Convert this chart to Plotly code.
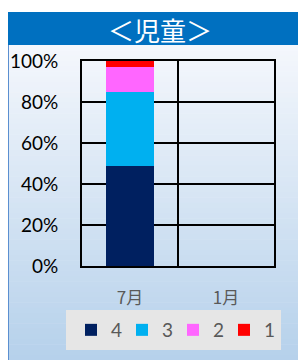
import plotly.graph_objects as go

categories = ["7月", "1月"]
series_names = ["4", "3", "2", "1"]
series_values = {
    "4": [0.49, None],
    "3": [0.36, None],
    "2": [0.12, None],
    "1": [0.03, None],
}
series_colors = {"4": "#002060", "3": "#00b0f0", "2": "#ff66ff", "1": "#ff0000"}
y_ticks = [0, 0.2, 0.4, 0.6, 0.8, 1.0]
y_tick_labels = ["0%", "20%", "40%", "60%", "80%", "100%"]
title_text = "＜児童＞"

W, H = 306, 360
L, R, T, B = 74, 266, 53, 258

def xp(px):
    return (px - L) / (R - L)

def yp(py):
    return (B - py) / (B - T)

fig = go.Figure()
for name in series_names:
    fig.add_trace(go.Bar(
        x=categories, y=series_values[name], name=name,
        marker=dict(color=series_colors[name], line=dict(width=0)),
        width=0.51,
    ))

shapes = []
# gradient background
top = (244, 247, 252)
bot = (182, 209, 235)
n = 60
y_start, y_end = 37, 352
for i in range(n):
    t = i / (n - 1)
    c = tuple(round(top[k] + (bot[k] - top[k]) * t) for k in range(3))
    y0 = y_start + (y_end - y_start) * i / n
    y1 = y_start + (y_end - y_start) * (i + 1) / n + 0.5
    if i == n - 1:
        y1 = H + 2
    shapes.append(dict(type="rect", xref="paper", yref="paper",
                       x0=xp(0), x1=xp(W + 2), y0=yp(y1), y1=yp(y0),
                       fillcolor="rgb(%d,%d,%d)" % c, line=dict(width=0), layer="below"))
# left border line
shapes.append(dict(type="line", xref="paper", yref="paper", x0=xp(0.5), x1=xp(0.5),
                   y0=yp(H + 2), y1=yp(37), line=dict(color="#5b8fd0", width=1), layer="below"))
# title bar
shapes.append(dict(type="rect", xref="paper", yref="paper", x0=xp(0), x1=xp(W + 2),
                   y0=yp(37), y1=yp(4), fillcolor="#0070c0", line=dict(width=0), layer="below"))
# legend box
shapes.append(dict(type="rect", xref="paper", yref="paper", x0=xp(58), x1=xp(273),
                   y0=yp(342), y1=yp(302), fillcolor="#e6e6e6", line=dict(width=0), layer="below"))

fig.update_layout(
    width=W, height=H,
    margin=dict(l=L, r=W - R, t=T, b=H - B, pad=0, autoexpand=False),
    paper_bgcolor="white",
    plot_bgcolor="rgba(0,0,0,0)",
    barmode="stack",
    shapes=shapes,
    showlegend=True,
    legend=dict(orientation="h", traceorder="normal",
                xref="paper", yref="paper",
                x=xp(63), xanchor="left",
                y=yp(322), yanchor="middle", bgcolor="rgba(0,0,0,0)",
                font=dict(family="Lato, Noto Sans CJK JP", size=19, color="#595959"),
                entrywidth=6, itemclick=False),
    annotations=[dict(text=title_text, xref="paper", yref="paper", x=xp(152), y=yp(21),
                      xanchor="center", yanchor="middle", showarrow=False,
                      font=dict(family="Noto Sans CJK JP", size=26, color="white"))],
    font=dict(family="Lato, Noto Sans CJK JP"),
)
fig.update_xaxes(
    tickson="boundaries", showgrid=True, gridcolor="black", gridwidth=2,
    showline=True, linecolor="black", linewidth=2, mirror=True,
    ticks="", ticklabelstandoff=16,
    tickfont=dict(family="Noto Sans CJK JP", size=17, color="#595959"),
)
fig.update_yaxes(
    range=[0, 1], tickvals=y_ticks, ticktext=y_tick_labels,
    showgrid=True, gridcolor="black", gridwidth=2,
    showline=True, linecolor="black", linewidth=2, mirror=True,
    ticks="", ticklabelstandoff=18, zeroline=False,
    tickfont=dict(family="Lato, Noto Sans", size=19, color="black"),
)
fig.write_html("out.html")
